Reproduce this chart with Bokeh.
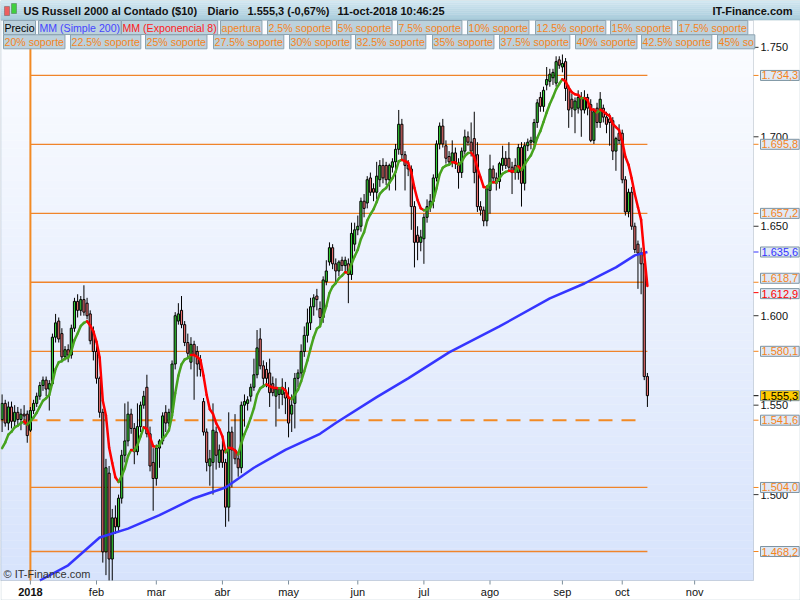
import numpy as np
from bokeh.plotting import figure
from bokeh.models import Range1d, Label, BoxAnnotation, ColumnDataSource
from bokeh.core.properties import value
from bokeh.embed import file_html
from bokeh.resources import INLINE

FONT = "Liberation Sans"

# ---------------- data (O, H, L, C) ----------------
ohlc_dec17 = [
    (1542, 1556, 1535, 1551), (1551, 1553, 1538, 1540), (1540, 1552, 1536, 1549), (1549, 1552, 1537, 1541),
    (1541, 1550, 1538, 1546), (1546, 1549, 1538, 1542), (1542, 1548, 1536, 1545), (1545, 1550, 1539, 1544),
    (1545, 1547, 1529, 1533)]
ohlc_jan = [
    (1536, 1549, 1535, 1547), (1547, 1553, 1545, 1551), (1551, 1557, 1549, 1555), (1555, 1563, 1553, 1561),
    (1561, 1566, 1558, 1564), (1564, 1566, 1555, 1559), (1559, 1564, 1547, 1562), (1562, 1590, 1561, 1588),
    (1588, 1601, 1585, 1596), (1597, 1599, 1585, 1587), (1590, 1593, 1574, 1577), (1577, 1583, 1575, 1581),
    (1581, 1584, 1574, 1578), (1578, 1595, 1576, 1593), (1593, 1610, 1591, 1608), (1608, 1612, 1599, 1603),
    (1603, 1611, 1600, 1609), (1609, 1617, 1600, 1602), (1607, 1610, 1598, 1600), (1601, 1603, 1584, 1586),
    (1591, 1594, 1575, 1580)]
ohlc_feb = [
    (1580, 1583, 1562, 1565), (1565, 1566, 1543, 1546), (1546, 1548, 1462, 1468), (1468, 1520, 1455, 1515),
    (1512, 1516, 1452, 1464), (1464, 1492, 1452, 1487), (1487, 1494, 1478, 1482), (1482, 1500, 1479, 1498),
    (1498, 1525, 1495, 1522), (1522, 1551, 1518, 1530), (1530, 1552, 1527, 1545), (1545, 1548, 1534, 1537),
    (1537, 1540, 1517, 1524), (1524, 1551, 1522, 1538), (1538, 1552, 1535, 1550), (1550, 1558, 1548, 1555),
    (1560, 1567, 1532, 1534), (1534, 1538, 1513, 1516), (1518, 1526, 1491, 1509)]
ohlc_mar = [
    (1509, 1528, 1505, 1526), (1526, 1531, 1515, 1530), (1530, 1546, 1528, 1544), (1546, 1550, 1535, 1540),
    (1540, 1548, 1538, 1546), (1546, 1575, 1543, 1573), (1573, 1602, 1570, 1600), (1597, 1607, 1595, 1601),
    (1603, 1611, 1593, 1595), (1595, 1597, 1583, 1585), (1585, 1590, 1576, 1579), (1574, 1588, 1570, 1584),
    (1584, 1586, 1553, 1578), (1580, 1583, 1566, 1573), (1575, 1578, 1566, 1570), (1552, 1554, 1533, 1535),
    (1535, 1537, 1513, 1518), (1516, 1525, 1505, 1520), (1518, 1551, 1500, 1536), (1535, 1538, 1514, 1522),
    (1518, 1528, 1515, 1525)]
ohlc_apr = [
    (1525, 1530, 1515, 1518), (1518, 1520, 1482, 1493), (1493, 1546, 1485, 1535), (1535, 1538, 1504, 1525),
    (1525, 1545, 1517, 1520), (1520, 1524, 1510, 1515), (1515, 1552, 1512, 1550), (1550, 1556, 1538, 1552),
    (1551, 1555, 1547, 1553), (1555, 1562, 1552, 1560), (1560, 1576, 1558, 1567), (1567, 1592, 1565, 1582),
    (1587, 1593, 1570, 1572), (1572, 1575, 1560, 1565), (1570, 1574, 1560, 1565), (1568, 1576, 1549, 1557),
    (1562, 1566, 1555, 1557), (1555, 1565, 1538, 1559), (1556, 1560, 1548, 1559), (1556, 1565, 1550, 1560),
    (1557, 1563, 1545, 1554)]
ohlc_may = [
    (1554, 1560, 1532, 1540), (1545, 1556, 1535, 1550), (1551, 1568, 1537, 1565), (1565, 1570, 1560, 1568),
    (1568, 1584, 1565, 1580), (1580, 1594, 1577, 1589), (1589, 1604, 1585, 1596), (1596, 1610, 1592, 1605),
    (1605, 1612, 1600, 1610), (1611, 1615, 1603, 1609), (1604, 1608, 1594, 1599), (1599, 1622, 1596, 1620),
    (1619, 1631, 1617, 1625), (1630, 1641, 1628, 1638), (1638, 1640, 1626, 1629), (1629, 1632, 1618, 1625),
    (1625, 1631, 1622, 1630), (1631, 1633, 1625, 1628), (1628, 1633, 1625, 1631), (1629, 1632, 1607, 1623),
    (1623, 1652, 1620, 1646), (1640, 1652, 1636, 1648)]
ohlc_jun = [
    (1648, 1656, 1645, 1650), (1650, 1666, 1647, 1664), (1664, 1668, 1655, 1660), (1663, 1678, 1660, 1676),
    (1677, 1680, 1667, 1669), (1671, 1674, 1664, 1669), (1669, 1686, 1665, 1678), (1676, 1687, 1672, 1684),
    (1684, 1688, 1674, 1677), (1684, 1686, 1673, 1676), (1676, 1685, 1670, 1684), (1683, 1688, 1680, 1686),
    (1686, 1696, 1670, 1693), (1693, 1715, 1690, 1707), (1707, 1710, 1687, 1690), (1690, 1692, 1670, 1684),
    (1684, 1687, 1678, 1682), (1682, 1684, 1648, 1661), (1661, 1664, 1627, 1641), (1645, 1650, 1631, 1641),
    (1641, 1648, 1636, 1644)]
ohlc_jul = [
    (1643, 1657, 1629, 1655), (1655, 1665, 1652, 1661), (1661, 1668, 1658, 1664), (1664, 1679, 1660, 1677),
    (1677, 1698, 1675, 1696), (1696, 1708, 1693, 1706), (1706, 1710, 1694, 1696), (1695, 1698, 1685, 1688),
    (1689, 1692, 1684, 1686), (1686, 1698, 1683, 1691), (1691, 1694, 1682, 1685), (1685, 1688, 1671, 1680),
    (1680, 1694, 1677, 1692), (1692, 1704, 1690, 1700), (1700, 1703, 1695, 1697), (1697, 1708, 1689, 1692),
    (1699, 1714, 1674, 1680), (1690, 1697, 1658, 1661), (1661, 1664, 1656, 1659), (1659, 1661, 1650, 1653),
    (1653, 1673, 1650, 1671)]
ohlc_aug = [
    (1670, 1690, 1657, 1682), (1682, 1684, 1674, 1677), (1677, 1680, 1670, 1674), (1675, 1686, 1671, 1685),
    (1684, 1695, 1681, 1688), (1688, 1692, 1682, 1684), (1688, 1697, 1681, 1683), (1683, 1686, 1668, 1680),
    (1684, 1688, 1676, 1680), (1680, 1696, 1676, 1694), (1694, 1697, 1661, 1674), (1674, 1697, 1670, 1695),
    (1695, 1699, 1692, 1697), (1697, 1700, 1693, 1698), (1697, 1710, 1694, 1708), (1708, 1721, 1705, 1719),
    (1722, 1725, 1714, 1717), (1717, 1728, 1714, 1726), (1729, 1739, 1726, 1732), (1731, 1738, 1728, 1735),
    (1733, 1738, 1729, 1736), (1730, 1745, 1728, 1742), (1743, 1745, 1738, 1740)]
ohlc_sep = [
    (1739, 1746, 1736, 1741), (1742, 1744, 1720, 1727), (1727, 1729, 1705, 1715), (1721, 1724, 1711, 1716),
    (1715, 1722, 1702, 1720), (1716, 1726, 1713, 1722), (1722, 1725, 1700, 1715), (1715, 1726, 1713, 1722),
    (1722, 1724, 1712, 1716), (1718, 1721, 1697, 1698), (1698, 1716, 1696, 1714), (1716, 1719, 1705, 1708),
    (1708, 1725, 1705, 1721), (1716, 1718, 1708, 1711), (1711, 1714, 1702, 1707), (1710, 1713, 1695, 1708),
    (1709, 1711, 1687, 1692), (1692, 1700, 1681, 1699), (1702, 1707, 1696, 1698)]
ohlc_oct = [
    (1702, 1704, 1674, 1676), (1676, 1678, 1656, 1658), (1658, 1671, 1655, 1669), (1669, 1672, 1648, 1650),
    (1650, 1652, 1635, 1637), (1640, 1642, 1615, 1635), (1635, 1638, 1612, 1629), (1629, 1632, 1564, 1566),
    (1566, 1568, 1549, 1555.3)]

# 200-day simple moving average (bar index, value)
sma_idx = [3, 12, 22, 31, 41, 52, 62, 71, 81, 92, 97, 110, 120, 133, 149, 165, 176, 181, 186, 192, 196]
sma_val = [1452, 1460.5, 1476, 1481, 1488.5, 1498, 1504, 1515, 1525, 1534, 1540, 1554.5, 1565,
           1579.5, 1594, 1609.7, 1618, 1622.6, 1627, 1633.7, 1635.6]
ema_period = 8
ema_first = 1526.0          # EMA value at the first visible bar

# horizontal levels
apertura = 1541.6
support_levels = [1734.3, 1695.8, 1657.2, 1618.7, 1580.1, 1504.0, 1468.2]
sma_last = 1635.6
ema_last = 1612.9
last_price = 1555.3

# axes
month_idx = [0, 21, 40, 61, 82, 104, 125, 146, 169, 188, 211]
month_labels = ["2018", "feb", "mar", "abr", "may", "jun", "jul", "ago", "sep", "oct", "nov"]
y_ticks = [1500, 1550, 1600, 1650, 1700, 1750]

title_parts = [("US Russell 2000 al Contado ($10)", 23), ("Diario", 207),
               ("1.555,3 (-0,67%)", 247), ("11-oct-2018 10:46:25", 337)]
site = "IT-Finance.com"
copyright_txt = "\u00a9 IT-Finance.com"

ORANGE = "#f28a24"
ORANGE_TXT = "#f5841c"
legend_row1 = [("Precio", "#000000", 1), ("MM (Simple 200)", "#4646ff", 36),
               ("MM (Exponencial 8)", "#ff2020", 119), ("apertura", ORANGE_TXT, 218),
               ("2.5% soporte", ORANGE_TXT, 265), ("5% soporte", ORANGE_TXT, 334),
               ("7.5% soporte", ORANGE_TXT, 395), ("10% soporte", ORANGE_TXT, 465),
               ("12.5% soporte", ORANGE_TXT, 533), ("15% soporte", ORANGE_TXT, 608),
               ("17.5% soporte", ORANGE_TXT, 675)]
legend_row2 = [("20% soporte", 1), ("22.5% soporte", 68), ("25% soporte", 143),
               ("27.5% soporte", 211), ("30% soporte", 287), ("32.5% soporte", 353),
               ("35% soporte", 430), ("37.5% soporte", 497), ("40% soporte", 573),
               ("42.5% soporte", 639), ("45% so", 715)]

# ---------------- layout (pixels) ----------------
W, H = 800, 600
PLOT_R, PLOT_T, PLOT_B = 753, 20, 580
x_lo, x_plot_hi = -9.5, 229.7
y_plot_lo, y_plot_hi = 1452.0, 1765.0
px_x = PLOT_R / (x_plot_hi - x_lo)
px_y = (PLOT_B - PLOT_T) / (y_plot_hi - y_plot_lo)


def dx(px):
    return px / px_x


def dy(px):
    return px / px_y


def sy(Y):
    """canvas top-down pixel -> screen y measured up from bottom"""
    return H - Y


def fmt_es(v):
    s = f"{v:,.1f}"
    return s.replace(",", "X").replace(".", ",").replace("X", ".")


def fmt_tick(v):
    return f"{v:,.0f}".replace(",", ".")


def hexcol(rgb):
    return "#%02x%02x%02x" % tuple(int(round(v)) for v in rgb)


ohlc = (ohlc_dec17 + ohlc_jan + ohlc_feb + ohlc_mar + ohlc_apr + ohlc_may + ohlc_jun +
        ohlc_jul + ohlc_aug + ohlc_sep + ohlc_oct)
xs = list(range(-len(ohlc_dec17), len(ohlc) - len(ohlc_dec17)))
o = [r[0] for r in ohlc]
h = [r[1] for r in ohlc]
l = [r[2] for r in ohlc]
c = [r[3] for r in ohlc]

GREEN = "#35cc35"
RED = "#ec7272"
cols = [GREEN if cc >= oo else RED for oo, cc in zip(o, c)]
src = ColumnDataSource(dict(x=xs, o=o, h=h, l=l, c=c,
                            top=[max(a, b) for a, b in zip(o, c)],
                            bottom=[min(a, b) for a, b in zip(o, c)],
                            color=cols))

p = figure(width=W, height=H,
           x_range=Range1d(x_lo, x_lo + W / px_x),
           y_range=Range1d(y_plot_lo - (H - PLOT_B) / px_y, y_plot_hi + PLOT_T / px_y),
           output_backend="svg", toolbar_location=None,
           x_axis_location=None, y_axis_location=None, min_border=0)
p.grid.visible = False
p.outline_line_color = None
p.background_fill_color = "white"
p.border_fill_color = "white"

# gradient background of the plotting area
nb = 70
edges = np.linspace(y_plot_lo, y_plot_hi, nb + 1)
top_rgb = np.array([252, 253, 255])
bot_rgb = np.array([215, 227, 252])
for i in range(nb):
    f = ((edges[i] + edges[i + 1]) / 2 - y_plot_lo) / (y_plot_hi - y_plot_lo)
    hx = hexcol(bot_rgb + (top_rgb - bot_rgb) * f)
    p.add_layout(BoxAnnotation(left=x_lo, right=x_plot_hi, bottom=edges[i], top=edges[i + 1],
                               fill_color=hx, fill_alpha=1, line_color=hx, line_width=1,
                               level="underlay"))

AX = "#7d8f9c"
# right price axis (ticks + labels from the tick values)
p.segment(x0=[x_plot_hi] * len(y_ticks), x1=[x_plot_hi + dx(5)] * len(y_ticks),
          y0=y_ticks, y1=y_ticks, line_color="#333333", line_width=1)
p.text(x=[x_plot_hi + dx(7)] * len(y_ticks), y=y_ticks, text=[fmt_tick(v) for v in y_ticks],
       text_font=value(FONT), text_font_size="11px", text_color="#111111",
       text_baseline="middle", text_align="left")

# bottom time axis
p.segment(x0=month_idx, x1=month_idx, y0=[y_plot_lo] * len(month_idx),
          y1=[y_plot_lo - dy(4)] * len(month_idx), line_color=AX, line_width=1)
p.text(x=month_idx[1:], y=[y_plot_lo - dy(11)] * (len(month_idx) - 1), text=month_labels[1:],
       text_font=value(FONT), text_font_size="11px", text_color="#111111",
       text_baseline="middle", text_align="center")
p.text(x=month_idx[:1], y=[y_plot_lo - dy(11)], text=month_labels[:1],
       text_font=value(FONT), text_font_size="11px", text_font_style="bold",
       text_color="#111111", text_baseline="middle", text_align="center")

# support / opening lines
last_x = xs[-1]
p.segment(x0=[0] * len(support_levels), x1=[last_x] * len(support_levels),
          y0=support_levels, y1=support_levels, line_color="#f0842a", line_width=1.3)
p.segment(x0=[x_lo], x1=[last_x - 2], y0=[apertura], y1=[apertura],
          line_color=ORANGE, line_width=2, line_dash="14 9")
p.segment(x0=[0], x1=[0], y0=[y_plot_lo], y1=[y_plot_hi], line_color=ORANGE, line_width=2)

# candles
p.segment(x0="x", y0="l", x1="x", y1="h", source=src, line_color="black", line_width=1)
p.vbar(x="x", width=0.68, top="top", bottom="bottom", source=src,
       fill_color="color", line_color="black", line_width=1)

# SMA 200
p.line(sma_idx, sma_val, line_color="#3535ff", line_width=2.5)

# EMA 8 (green while rising, red while falling)
k = 2.0 / (ema_period + 1)
ema = [ema_first]
for cc in c[1:]:
    ema.append(ema[-1] + k * (cc - ema[-1]))
seg_cols = ["#46a31e" if ema[i + 1] >= ema[i] else "#ff0000" for i in range(len(ema) - 1)]
p.segment(x0=xs[:-1], y0=ema[:-1], x1=xs[1:], y1=ema[1:], line_color=seg_cols,
          line_width=2.5, line_cap="round")

# frame of the plotting area and of the whole chart
p.add_layout(BoxAnnotation(left=x_lo, right=x_plot_hi, bottom=y_plot_lo, top=y_plot_hi,
                           fill_alpha=0, line_color=AX, line_width=1))
p.add_layout(BoxAnnotation(left=0.5, right=W - 0.5, top=sy(0.5), bottom=sy(H - 0.5),
                           left_units="screen", right_units="screen", top_units="screen",
                           bottom_units="screen", fill_alpha=0, line_color="#8ea4b2",
                           line_width=1))

# value boxes on the right axis
BOX_BG = "#e0e9f5"
BOX_BD = "#7c93a2"
boxes = [(v, ORANGE_TXT, BOX_BG, 0) for v in support_levels if v != 1618.7]
boxes += [(1618.7, ORANGE_TXT, BOX_BG, 4), (apertura, ORANGE_TXT, BOX_BG, 0),
          (sma_last, "#3333ff", BOX_BG, 0), (ema_last, "#ff0000", BOX_BG, -1),
          (last_price, "#000000", "#ffcc00", 0)]
p.segment(x0=[x_plot_hi] * len(boxes), x1=[x_plot_hi + dx(5)] * len(boxes),
          y0=[b[0] for b in boxes], y1=[b[0] for b in boxes],
          line_color=[b[1] for b in boxes], line_width=1)
for v, tc, bg, off in boxes:
    p.add_layout(Label(x=PLOT_R + 7, x_units="screen", y=v, y_units="data", y_offset=off,
                       text=fmt_es(v), text_font=FONT, text_font_size="11px", text_color=tc,
                       text_baseline="middle", text_align="left",
                       background_fill_color=bg, border_line_color=BOX_BD, padding=1))

# title bar (vertical gradient)
tb_top = np.array([212, 233, 242])
tb_bot = np.array([168, 203, 219])
nt = 10
for i in range(nt):
    Y0 = 19.5 * i / nt
    Y1 = 19.5 * (i + 1) / nt
    hx = hexcol(tb_top + (tb_bot - tb_top) * (i + 0.5) / nt)
    p.add_layout(BoxAnnotation(left=0, right=W, top=sy(Y0), bottom=sy(Y1), left_units="screen",
                               right_units="screen", top_units="screen", bottom_units="screen",
                               fill_color=hx, fill_alpha=1, line_color=hx, line_width=1))
p.add_layout(BoxAnnotation(left=0, right=W, top=sy(0), bottom=sy(19.5), left_units="screen",
                           right_units="screen", top_units="screen", bottom_units="screen",
                           fill_alpha=0, line_color="#87a2b0"))
# small candlestick icon
p.add_layout(BoxAnnotation(left=4, right=9, top=sy(6), bottom=sy(15), left_units="screen",
                           right_units="screen", top_units="screen", bottom_units="screen",
                           fill_color="#ec5f5f", fill_alpha=1, line_color="#333333"))
p.add_layout(BoxAnnotation(left=11, right=16, top=sy(3), bottom=sy(13), left_units="screen",
                           right_units="screen", top_units="screen", bottom_units="screen",
                           fill_color="#3fcf3f", fill_alpha=1, line_color="#333333"))
for txt, xx in title_parts:
    p.add_layout(Label(x=xx, y=sy(10), x_units="screen", y_units="screen", text=txt,
                       text_font=FONT, text_font_size="11px", text_font_style="bold",
                       text_color="#111111", text_baseline="middle"))
p.add_layout(Label(x=W - 8, y=sy(10), x_units="screen", y_units="screen", text=site,
                   text_font=FONT, text_font_size="11px", text_font_style="bold",
                   text_color="#111111", text_baseline="middle", text_align="right"))

# legend rows
LEG_BG = "#bcd1dc"
LEG_BD = "#8ca3b1"
for txt, tc, xx in legend_row1:
    p.add_layout(Label(x=xx + 2, y=sy(27), x_units="screen", y_units="screen",
                       text=txt, text_font=FONT, text_font_size="10.6px", text_color=tc,
                       text_baseline="middle", background_fill_color=LEG_BG,
                       border_line_color=LEG_BD, padding=1))
for txt, xx in legend_row2:
    p.add_layout(Label(x=xx + 2, y=sy(41.3), x_units="screen", y_units="screen",
                       text=txt, text_font=FONT, text_font_size="10.6px", text_color=ORANGE_TXT,
                       text_baseline="middle", background_fill_color=LEG_BG,
                       border_line_color=LEG_BD, padding=1))

# copyright
p.add_layout(Label(x=3, y=sy(PLOT_B - 7), x_units="screen", y_units="screen",
                   text=copyright_txt, text_font=FONT, text_font_size="11px",
                   text_color="#333333", text_baseline="middle"))

open("out.html", "w").write(file_html(p, INLINE))
